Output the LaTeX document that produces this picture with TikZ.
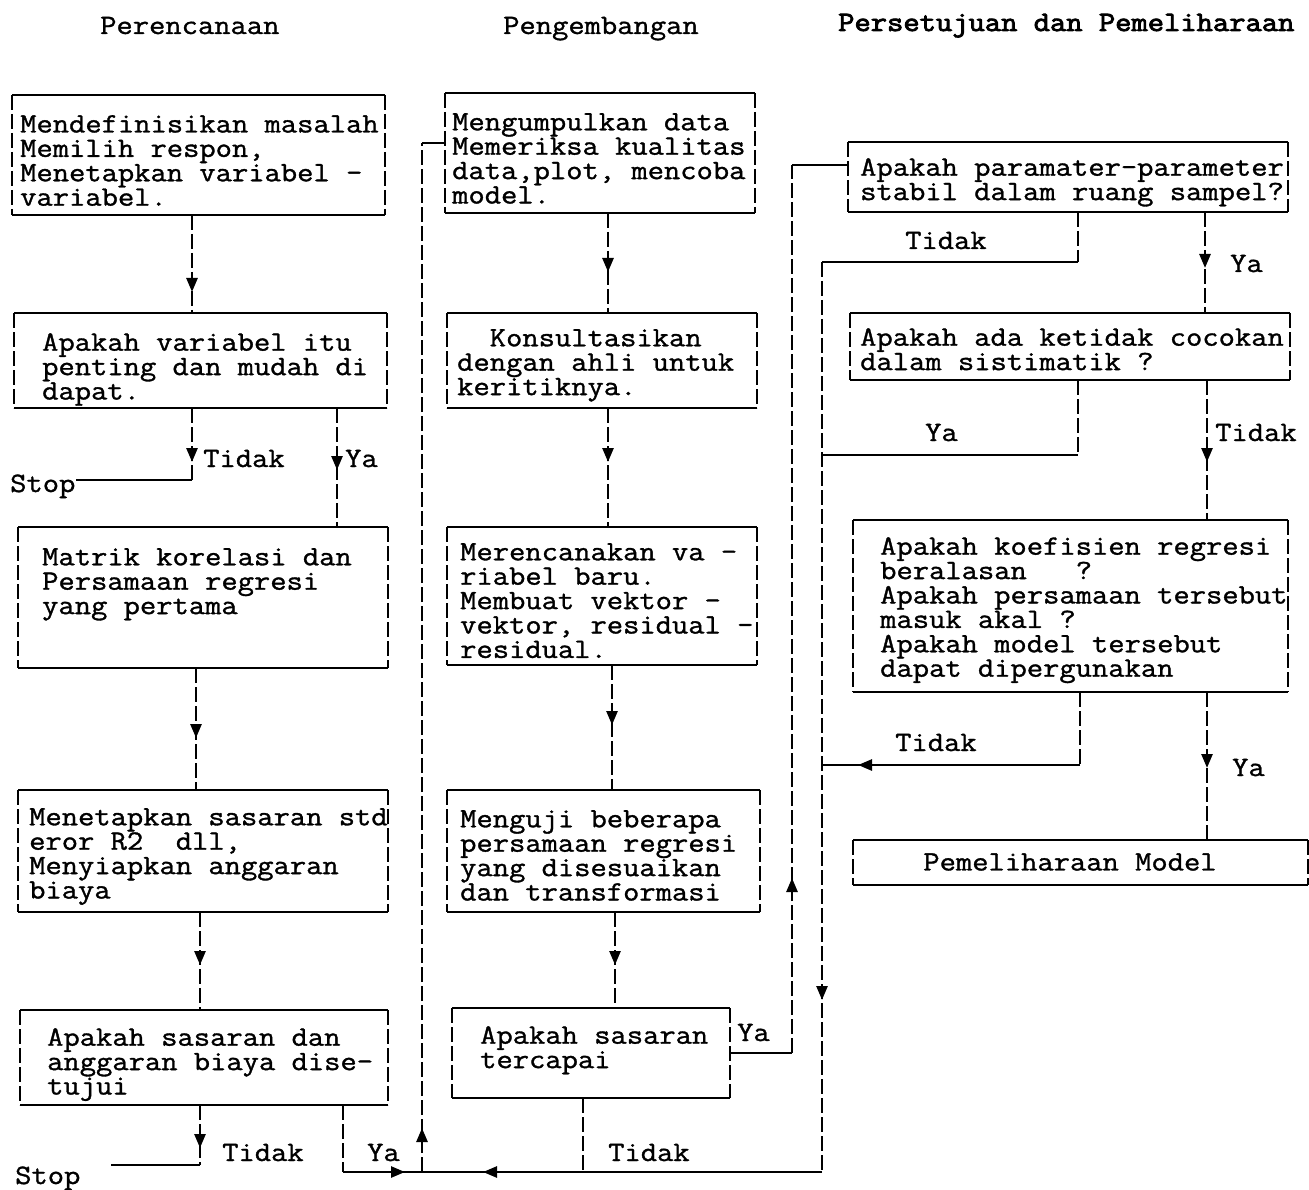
\documentclass[tikz,border=0pt]{standalone}
\usepackage{fontspec}
\setmonofont{Latin Modern Mono}[FakeStretch=1.13,FakeBold=1.2]
\newfontfamily\hdbold{Latin Modern Mono}[FakeStretch=1.13,FakeBold=3]
\usetikzlibrary{decorations.markings,arrows.meta}
\newcommand\dmfont{\ttfamily\fontsize{28}{24.4}\selectfont\lineskiplimit=-20pt}
\newcommand\boxedges[1]{%
  \draw[hl] (#1.north west) -- (#1.north east) (#1.south west) -- (#1.south east);
  \draw[vl] (#1.north west) -- (#1.south west) (#1.north east) -- (#1.south east);}
\tikzset{
  every node/.style={font=\dmfont},
  box/.style={anchor=north west, inner sep=0pt, outer sep=0pt},
  txt/.style={anchor=north west, inner sep=0pt, align=left},
  lab/.style={anchor=base west, inner sep=0pt},
  hl/.style={line width=2.6pt},
  vl/.style={line width=2.6pt, dash pattern=on 15pt off 4pt},
  arr/.style={postaction={decorate, decoration={markings,
      mark=at position #1 with {\arrow{Triangle[length=14pt,width=11pt]}}}}},
}
\begin{document}
\begin{tikzpicture}[x=1pt,y=-1pt]
\useasboundingbox (0,0) rectangle (1309,1190);

% headers
\node[lab] (h1) at (100,34) {Perencanaan};
\node[lab] (h2) at (503,34) {Pengembangan};
\node[lab,font=\dmfont\hdbold] (h3) at (838,31) {Persetujuan dan Pemeliharaan};

% boxes
\node[box,minimum width=373pt,minimum height=120pt] (b1) at (12,95) {};
\node[box,minimum width=373pt,minimum height=95pt]  (b2) at (14,313) {};
\node[box,minimum width=370pt,minimum height=141pt] (b3) at (18,527) {};
\node[box,minimum width=370pt,minimum height=122pt] (b4) at (18,790) {};
\node[box,minimum width=368pt,minimum height=95pt]  (b5) at (20,1010) {};
\node[box,minimum width=310pt,minimum height=120pt] (b6) at (445,93) {};
\node[box,minimum width=310pt,minimum height=95pt]  (b7) at (447,313) {};
\node[box,minimum width=310pt,minimum height=138pt] (b8) at (447,527) {};
\node[box,minimum width=313pt,minimum height=122pt] (b9) at (447,790) {};
\node[box,minimum width=278pt,minimum height=90pt]  (b10) at (452,1008) {};
\node[box,minimum width=440pt,minimum height=70pt]  (b11) at (848,142) {};
\node[box,minimum width=440pt,minimum height=67pt]  (b12) at (850,313) {};
\node[box,minimum width=435pt,minimum height=172pt] (b13) at (853,520) {};
\node[box,minimum width=455pt,minimum height=45pt]  (b14) at (853,840) {};
\foreach \b in {b1,b2,b3,b4,b5,b6,b7,b8,b9,b10,b11,b12,b13,b14}{\boxedges{\b}}

% box texts
\node[txt] (t1) at (20,115) {Mendefinisikan masalah\\Memilih respon,\\Menetapkan variabel -\\variabel.};
\node[txt] (t2) at (42,333) {Apakah variabel itu\\penting dan mudah di\\dapat.};
\node[txt] (t3) at (42,548) {Matrik korelasi dan\\Persamaan regresi\\yang pertama};
\node[txt] (t4) at (29,808) {Menetapkan sasaran std\\eror R2~~dll,\\Menyiapkan anggaran\\biaya};
\node[txt] (t5) at (47,1028) {Apakah sasaran dan\\anggaran biaya dise-\\tujui};
\node[txt] (t6) at (452,113) {Mengumpulkan data\\Memeriksa kualitas\\data,plot, mencoba\\model.};
\node[txt] (t7) at (457,329) {\phantom{xx}Konsultasikan\\dengan ahli untuk\\keritiknya.};
\node[txt] (t8) at (460,543) {Merencanakan va -\\riabel baru.\\Membuat vektor -\\vektor, residual -\\residual.};
\node[txt] (t9) at (460,810) {Menguji beberapa\\persamaan regresi\\yang disesuaikan\\dan transformasi};
\node[txt] (t10) at (480,1026) {Apakah sasaran\\tercapai};
\node[txt] (t11) at (860,158) {Apakah paramater-parameter\\stabil dalam ruang sampel?};
\node[txt] (t12) at (860,328) {Apakah ada ketidak cocokan\\dalam sistimatik ?};
\node[txt] (t13) at (880,537) {Apakah koefisien regresi\\beralasan~~~?\\Apakah persamaan tersebut\\masuk akal ?\\Apakah model tersebut\\dapat dipergunakan};
\node[inner sep=0pt] (t14) at (1070,862) {Pemeliharaan Model};

% stop labels
\node[lab] (stop1) at (10,492) {Stop};
\node[lab] (stop2) at (15,1184) {Stop};

% junction coordinates
\coordinate (x192) at (192,0);
\coordinate (x337) at (337,0);
\coordinate (x196) at (196,0);
\coordinate (x200) at (200,0);
\coordinate (x608) at (608,0);
\coordinate (x612) at (612,0);
\coordinate (x615) at (615,0);
\coordinate (x1205) at (1205,0);
\coordinate (x1207) at (1207,0);
\coordinate (j1) at (192,480);
\coordinate (j2) at (200,1165);
\coordinate (j3) at (343,1172);
\coordinate (j4) at (422,1172);
\coordinate (j5) at (422,143);
\coordinate (j6) at (583,1172);
\coordinate (j7) at (792,1053);
\coordinate (j8) at (792,165);
\coordinate (j9) at (1078,262);
\coordinate (j10) at (822,262);
\coordinate (j11) at (822,1172);
\coordinate (j12) at (1078,455);
\coordinate (j13) at (822,455);
\coordinate (j14) at (1080,765);
\coordinate (j15) at (822,765);

% column 1
\draw[vl,arr=77pt] (b1.south -| x192) -- (b2.north -| x192);
\draw[vl,arr=54pt] (b2.south -| j1) -- (j1);
\draw[hl] (j1) -- (j1 -| stop1.east) ;
\draw[vl,arr=62pt] (b2.south -| x337) -- (b3.north -| x337);
\draw[vl,arr=70pt] (b3.south -| x196) -- (b4.north -| x196);
\draw[vl,arr=53pt] (b4.south -| x200) -- (b5.north -| x200);
\draw[vl,arr=43pt] (b5.south -| j2) -- (j2);
\draw[hl] (j2) -- ([xshift=30pt]j2 -| stop2.east);
\draw[vl] (b5.south -| j3) -- (j3);
\draw[hl,arr=62pt] (j3) -- (j4);
\draw[vl,arr=44pt] (j4) -- (j5);
\draw[hl] (j5) -- (j5 -| b6.west);

% column 2
\draw[vl,arr=59pt] (b6.south -| x608) -- (b7.north -| x608);
\draw[vl,arr=54pt] (b7.south -| x608) -- (b8.north -| x608);
\draw[vl,arr=60pt] (b8.south -| x612) -- (b9.north -| x612);
\draw[vl,arr=53pt] (b9.south -| x615) -- (b10.north -| x615);
\draw[vl] (b10.south -| j6) -- (j6);
\draw[hl] (b10.east |- j7) -- (j7);
\draw[vl,arr=175pt] (j7) -- (j8);
\draw[hl] (j8) -- (j8 -| b11.west);
\draw[hl,arr=339pt] (j11) -- (j4);

% column 3
\draw[vl] (b11.south -| j9) -- (j9);
\draw[hl] (j9) -- (j10);
\draw[vl,arr=56pt] (b11.south -| x1205) -- (b12.north -| x1205);
\draw[vl,arr=738pt] (j10) -- (j11);
\draw[vl] (b12.south -| j12) -- (j12);
\draw[hl] (j12) -- (j13);
\draw[vl,arr=82pt] (b12.south -| x1207) -- (b13.north -| x1207);
\draw[vl] (b13.south -| j14) -- (j14);
\draw[hl,arr=222pt] (j14) -- (j15);
\draw[vl,arr=76pt] (b13.south -| x1207) -- (b14.north -| x1207);

% connector labels
\node[lab] (l1) at (203,467) {Tidak};
\node[lab] (l2) at (345,467) {Ya};
\node[lab] (l3) at (222,1161) {Tidak};
\node[lab] (l4) at (367,1161) {Ya};
\node[lab] (l5) at (608,1161) {Tidak};
\node[lab] (l6) at (737,1041) {Ya};
\node[lab] (l7) at (905,249) {Tidak};
\node[lab] (l8) at (1230,272) {Ya};
\node[lab] (l9) at (925,441) {Ya};
\node[lab] (l10) at (1215,441) {Tidak};
\node[lab] (l11) at (895,751) {Tidak};
\node[lab] (l12) at (1232,776) {Ya};
\end{tikzpicture}
\end{document}
